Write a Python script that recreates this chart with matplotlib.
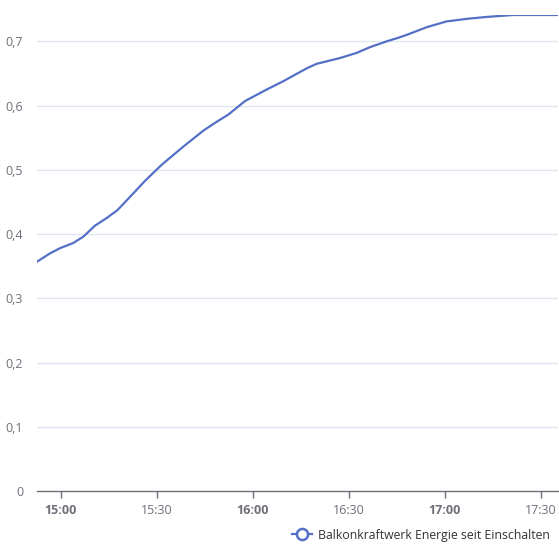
import matplotlib
matplotlib.use("Agg")
import matplotlib.pyplot as plt
import matplotlib.dates as mdates
from matplotlib.lines import Line2D
import pandas as pd

plt.rcParams['font.family'] = ['Open Sans', 'DejaVu Sans']

# Werte
times = ["14:52:30", "14:56:36", "14:59:42", "15:03:48", "15:07:00", "15:10:36",
         "15:14:18", "15:17:36", "15:21:36", "15:26:18", "15:31:30", "15:38:12",
         "15:44:30", "15:48:06", "15:52:18", "15:57:30", "16:04:18", "16:09:30",
         "16:16:48", "16:19:54", "16:27:12", "16:32:24", "16:36:36", "16:41:48",
         "16:45:42", "16:48:00", "16:54:18", "17:00:30", "17:06:48", "17:13:00",
         "17:21:18", "17:35:20"]
energy = [0.357, 0.370, 0.378, 0.386, 0.396, 0.413,
          0.425, 0.437, 0.458, 0.483, 0.508, 0.536,
          0.561, 0.573, 0.586, 0.607, 0.625, 0.638,
          0.658, 0.665, 0.674, 0.682, 0.691, 0.700,
          0.706, 0.710, 0.722, 0.731, 0.735, 0.738,
          0.741, 0.741]
y_ticks = [0, 0.1, 0.2, 0.3, 0.4, 0.5, 0.6, 0.7]
x_ticks = ["15:00", "15:30", "16:00", "16:30", "17:00", "17:30"]
series_name = "Balkonkraftwerk Energie seit Einschalten"

t = pd.to_datetime(["2024-01-01 " + s for s in times])
xt = pd.to_datetime(["2024-01-01 " + s for s in x_ticks])

grey = '#6E7079'
blue = '#5470C6'

fig = plt.figure(figsize=(5.59, 5.47), dpi=100)
ax = fig.add_axes([37 / 559, 1 - 491 / 547, 521 / 559, 476 / 547])

ax.plot(t, energy, color=blue, lw=1.6, solid_joinstyle='round', zorder=3)

ax.set_xlim(t.min(), t.max())
ax.set_ylim(0, max(energy))

ax.set_yticks(y_ticks)
ax.set_yticklabels([f"{v:g}".replace('.', ',') for v in y_ticks])
for v in y_ticks[1:]:
    ax.axhline(v, color='#E0E6F1', lw=1, zorder=1)

ax.set_xticks(xt)
ax.set_xticklabels(x_ticks)
for lab, s in zip(ax.get_xticklabels(), x_ticks):
    if s.endswith(":00"):
        lab.set_fontweight('bold')

for side in ['top', 'right', 'left']:
    ax.spines[side].set_visible(False)
ax.spines['bottom'].set_color(grey)
ax.spines['bottom'].set_linewidth(1)

ax.tick_params(axis='y', length=0, pad=10, labelsize=9, labelcolor=grey)
ax.tick_params(axis='x', length=5, width=1, color=grey, pad=4,
               labelsize=9, labelcolor=grey, direction='out')

handle = Line2D([0], [0], color=blue, lw=1.6, marker='o', markersize=8,
                markerfacecolor='white', markeredgecolor=blue, markeredgewidth=1.8)
fig.legend([handle], [series_name], loc='center',
           bbox_to_anchor=(421 / 559, 1 - 535 / 547), frameon=False,
           fontsize=8.8, handlelength=1.6, handletextpad=0.5, labelcolor='#333333')

fig.savefig('out.png', dpi=100, facecolor='white')
